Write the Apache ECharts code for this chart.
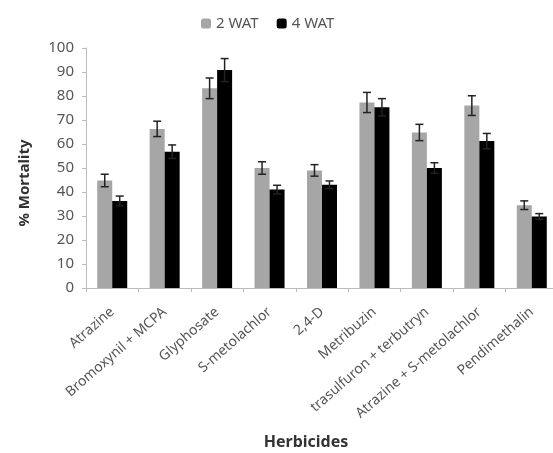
<!DOCTYPE html>
<html>
<head>
<meta charset="utf-8">
<script src="https://cdn.jsdelivr.net/npm/echarts@6/dist/echarts.min.js"></script>
<style>
  html, body { margin: 0; padding: 0; background: #fff; }
  #chart { width: 553px; height: 453px; }
</style>
</head>
<body>
<div id="chart"></div>
<script>
(function () {
    'use strict';

    var herbicides = ['Atrazine', 'Bromoxynil + MCPA', 'Glyphosate', 'S-metolachlor', '2,4-D',
        'Metribuzin', 'trasulfuron + terbutryn', 'Atrazine + S-metolachlor', 'Pendimethalin'];
    var wat2 = [44.8, 66.3, 83.2, 50, 49, 77.3, 64.8, 76, 34.5];
    var wat2Err = [2.6, 3.2, 4.3, 2.6, 2.4, 4.2, 3.4, 4.1, 1.8];
    var wat4 = [36.3, 56.8, 90.8, 41, 43, 75.3, 50, 61.2, 29.8];
    var wat4Err = [2, 2.8, 4.8, 1.8, 1.6, 3.6, 2.2, 3.2, 1.2];
    var yTicks = [0, 10, 20, 30, 40, 50, 60, 70, 80, 90, 100];

    var barW = 15;
    var font = 'Noto Sans';

    function errorSeries(values, errs, shift) {
        var data = values.map(function (v, i) { return [i, v - errs[i], v + errs[i]]; });
        return {
            type: 'custom',
            silent: true,
            z: 5,
            data: data,
            encode: { x: 0, y: [1, 2] },
            renderItem: function (params, api) {
                var lo = api.coord([api.value(0), api.value(1)]);
                var hi = api.coord([api.value(0), api.value(2)]);
                var x = lo[0] + shift;
                var cap = 4;
                var style = { stroke: '#222', lineWidth: 1.5 };
                return {
                    type: 'group',
                    children: [
                        { type: 'line', shape: { x1: x, y1: lo[1], x2: x, y2: hi[1] }, style: style },
                        { type: 'line', shape: { x1: x - cap, y1: hi[1], x2: x + cap, y2: hi[1] }, style: style },
                        { type: 'line', shape: { x1: x - cap, y1: lo[1], x2: x + cap, y2: lo[1] }, style: style }
                    ]
                };
            }
        };
    }

    var chart = echarts.init(document.getElementById('chart'));
    chart.setOption({
        animation: false,
        textStyle: { fontFamily: font },
        legend: {
            top: 11,
            left: 196,
            itemWidth: 10,
            itemHeight: 10,
            itemGap: 18,
            textStyle: { fontSize: 15, color: '#555', fontFamily: font },
            data: ['2 WAT', '4 WAT']
        },
        grid: { left: 86, top: 48, width: 472, height: 240, outerBoundsMode: 'none', containLabel: false },
        xAxis: {
            type: 'category',
            data: herbicides,
            name: 'Herbicides',
            nameLocation: 'middle',
            nameGap: 146,
            nameTextStyle: { fontSize: 16, fontWeight: 'bold', color: '#333', fontFamily: font, padding: [0, 32, 0, 0] },
            axisLine: { lineStyle: { color: '#bbb' } },
            axisTick: { show: true, alignWithLabel: false, length: 4, lineStyle: { color: '#bbb' } },
            axisLabel: { rotate: 41, interval: 0, fontSize: 14, color: '#555', margin: 22, fontFamily: font }
        },
        yAxis: {
            type: 'value',
            min: yTicks[0],
            max: yTicks[yTicks.length - 1],
            interval: 10,
            name: '% Mortality',
            nameLocation: 'middle',
            nameGap: 54,
            nameTextStyle: { fontSize: 15, fontWeight: 'bold', color: '#333', fontFamily: font, padding: [0, 30, 0, 0] },
            axisLine: { show: true, lineStyle: { color: '#bbb' } },
            axisTick: { show: true, length: 4, lineStyle: { color: '#bbb' } },
            axisLabel: { fontSize: 15, color: '#555', margin: 12, fontFamily: font },
            splitLine: { show: false }
        },
        series: [
            { name: '2 WAT', type: 'bar', data: wat2, barWidth: barW, barGap: '0%', itemStyle: { color: '#a6a6a6' } },
            { name: '4 WAT', type: 'bar', data: wat4, barWidth: barW, barGap: '0%', itemStyle: { color: '#000' } },
            errorSeries(wat2, wat2Err, -barW / 2),
            errorSeries(wat4, wat4Err, barW / 2)
        ]
    });
})();
</script>
</body>
</html>
